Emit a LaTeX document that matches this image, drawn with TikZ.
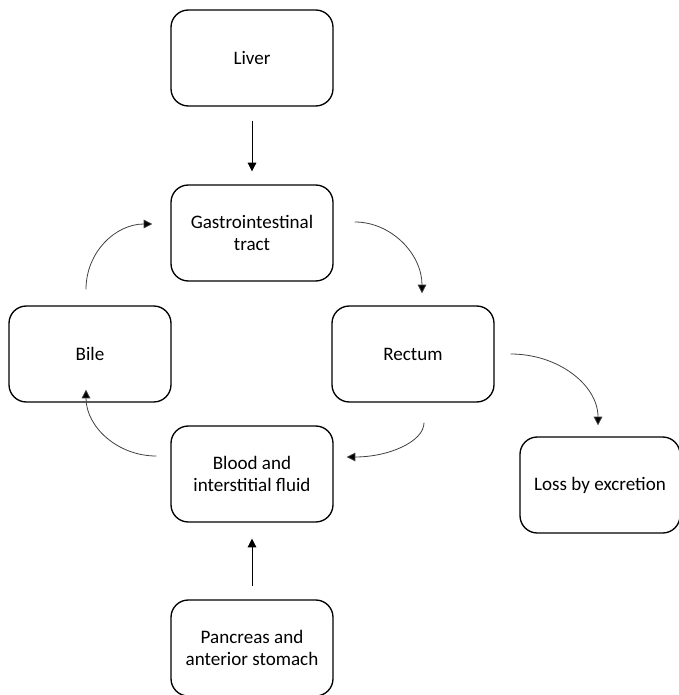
\documentclass[tikz,border=0pt]{standalone}
\usepackage{fontspec}
\setmainfont{Carlito}
\usetikzlibrary{arrows.meta,calc}
\begin{document}
\begin{tikzpicture}[x=0.75pt,y=-0.75pt,
  box/.style={draw=black,line width=1pt,rounded corners=13pt,minimum width=121.5pt,minimum height=72pt,align=center,font=\fontsize{14.3pt}{16.8pt}\selectfont,inner sep=2pt},
  flow/.style={draw=black,line width=0.6pt,-{Triangle[length=6.5pt,width=6.5pt]}},
  curvy/.style={draw=black!75,line width=0.6pt,-{Triangle[length=6.5pt,width=6.5pt,fill=black]}}]
\useasboundingbox (0,0) rectangle (678,695);
\node[box] (liver) at (252,58) {Liver};
\node[box] (gi) at (252,233) {Gastrointestinal\\tract};
\node[box] (bile) at (90,354) {Bile};
\node[box] (rectum) at (413,354) {Rectum};
\node[box] (blood) at (252,474) {Blood and\\interstitial fluid};
\node[box,minimum width=120pt] (loss) at (600,485) {Loss by excretion};
\node[box] (panc) at (252,648) {Pancreas and\\anterior stomach};
% straight arrows
\draw[flow] ($(liver.south)+(0,14)$) -- ($(gi.north)+(0,-13)$);
\draw[flow] ($(panc.north)+(0,-13)$) -- ($(blood.south)+(0,16)$);
% curved arrows
\coordinate (a1) at ($(bile.north)+(-4,-16)$);
\coordinate (a2) at ($(gi.west)+(-18,-9)$);
\draw[curvy] (a1) .. controls ($(a1)+(0,-37)$) and ($(a2)+(-37,0)$) .. (a2);
\coordinate (b1) at ($(gi.east)+(21,-11)$);
\coordinate (b2) at ($(rectum.north)+(9,-12)$);
\draw[curvy] (b1) .. controls ($(b1)+(37,0)$) and ($(b2)+(0,-39)$) .. (b2);
\coordinate (c1) at ($(rectum.east)+(16,0)$);
\coordinate (c2) at ($(loss.north)+(-2,-11)$);
\draw[curvy] (c1) .. controls ($(c1)+(48,0)$) and ($(c2)+(0,-40)$) .. (c2);
\coordinate (d1) at ($(rectum.south)+(11,20)$);
\coordinate (d2) at ($(blood.east)+(13,-17)$);
\draw[curvy] (d1) .. controls ($(d1)+(0,19)$) and ($(d2)+(42,0)$) .. (d2);
\coordinate (e1) at ($(blood.west)+(-14,-18)$);
\coordinate (e2) at ($(bile.south)+(-4,-13)$);
\draw[curvy] (e1) .. controls ($(e1)+(-39,0)$) and ($(e2)+(0,37)$) .. (e2);
\end{tikzpicture}
\end{document}
